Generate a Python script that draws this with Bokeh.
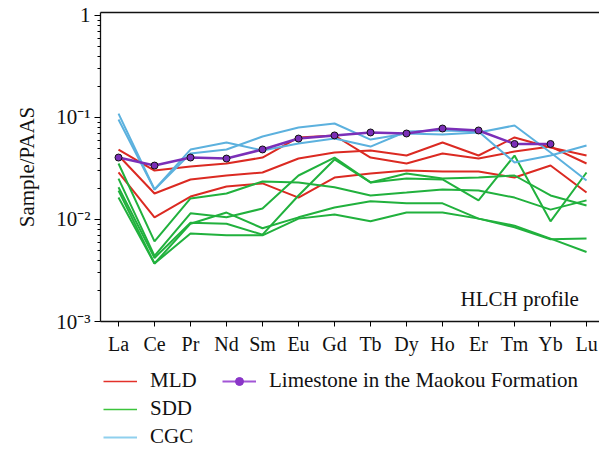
from bokeh.plotting import figure
from bokeh.layouts import column
from bokeh.models import (Range1d, FixedTicker, CustomJSTickFormatter, Legend,
                          LegendItem, LinearAxis, Label)
from bokeh.embed import file_html
from bokeh.resources import INLINE

# ---------------- data ----------------
elements = ["La", "Ce", "Pr", "Nd", "Sm", "Eu", "Gd", "Tb", "Dy", "Ho", "Er", "Tm", "Yb", "Lu"]

mld_a = [0.0485, 0.0302, 0.0331, 0.0354, 0.0405, 0.0637, 0.0666, 0.0405, 0.0354, 0.0444, 0.0396, 0.0464, 0.0519, 0.0354]
mld_b = [0.0424, 0.0180, 0.0247, 0.0270, 0.0289, 0.0396, 0.0454, 0.0475, 0.0424, 0.0569, 0.0424, 0.0637, 0.0508, 0.0424]
mld_c = [0.0289, 0.0105, 0.0168, 0.0211, 0.0226, 0.0164, 0.0258, 0.0283, 0.0302, 0.0296, 0.0296, 0.0258, 0.0338, 0.0184]

sdd_a = [0.0252, 0.0044, 0.0115, 0.0105, 0.0128, 0.0270, 0.0405, 0.0231, 0.0252, 0.0247, 0.0154, 0.0424, 0.0096, 0.0289]
sdd_b = [0.0207, 0.0042, 0.0093, 0.0091, 0.0071, 0.0172, 0.0388, 0.0231, 0.0283, 0.0252, 0.0258, 0.0270, 0.0172, 0.0137]
sdd_c = [0.0354, 0.0061, 0.0161, 0.0180, 0.0236, 0.0231, 0.0207, 0.0172, 0.0184, 0.0197, 0.0192, 0.0164, 0.0125, 0.0154]
sdd_d = [0.0192, 0.0037, 0.0091, 0.0117, 0.0082, 0.0105, 0.0131, 0.0151, 0.0144, 0.0144, 0.0102, 0.0084, 0.0064, 0.0065]
sdd_e = [0.0164, 0.0037, 0.0073, 0.0070, 0.0070, 0.0102, 0.0112, 0.0096, 0.0117, 0.0117, 0.0102, 0.0087, 0.0065, 0.0048]

cgc_a = [0.0955, 0.0197, 0.0485, 0.0569, 0.0475, 0.0556, 0.0622, 0.0519, 0.0729, 0.0746, 0.0729, 0.0362, 0.0424, 0.0531]
cgc_b = [0.1090, 0.0197, 0.0444, 0.0485, 0.0651, 0.0798, 0.0874, 0.0608, 0.0697, 0.0681, 0.0713, 0.0835, 0.0454, 0.0241]

limestone = [0.0405, 0.0338, 0.0405, 0.0396, 0.0486, 0.0622, 0.0667, 0.0713, 0.0697, 0.0780, 0.0746, 0.0550, 0.0550]

y_major = [0.001, 0.01, 0.1, 1]
y_minor = [k * m for m in [0.001, 0.01, 0.1] for k in range(2, 10)]

# ---------------- style ----------------
FONT = "Liberation Serif"
RED = "#db2a22"
GREEN = "#21b13d"
BLUE = "#5cb1de"
PURPLE = "#7b2fb8"

xs = list(range(len(elements)))

p = figure(width=599, height=360, y_axis_type="log",
           x_range=Range1d(-0.5, 13.36), y_range=Range1d(1e-3, 1.07),
           output_backend="svg", toolbar_location=None,
           min_border_left=100, min_border_right=0, min_border_top=12,
           min_border_bottom=39)
p.outline_line_color = None
p.xgrid.grid_line_color = None
p.ygrid.grid_line_color = None
p.background_fill_color = "white"

# x axis
xa = p.xaxis[0]
xa.ticker = FixedTicker(ticks=xs)
xa.major_label_overrides = {i: e for i, e in zip(xs, elements)}
xa.minor_tick_line_color = None
xa.major_tick_in = 0
xa.major_tick_out = 5
xa.major_label_standoff = 6
xa.major_label_text_font = FONT
xa.major_label_text_font_size = "20px"
xa.major_label_text_color = "#111111"
xa.axis_line_color = "#111111"
xa.axis_line_width = 1.3

# y axis
ya = p.yaxis[0]
ya.ticker = FixedTicker(ticks=y_major, minor_ticks=y_minor)
ya.formatter = CustomJSTickFormatter(code="""
const e = Math.round(Math.log10(tick));
if (e === 0) return "1";
const sup = {"-1": "\u207B\u00B9", "-2": "\u207B\u00B2", "-3": "\u207B\u00B3"};
return "10" + (sup[String(e)] || ("^" + e));
""")
ya.major_tick_in = 0
ya.major_tick_out = 6
ya.minor_tick_in = 0
ya.minor_tick_out = 3
ya.major_label_standoff = 4
ya.major_label_text_font = FONT
ya.major_label_text_font_size = "21px"
ya.major_label_text_color = "#111111"
ya.axis_line_color = "#111111"
ya.axis_line_width = 1.3
ya.axis_label = "Sample/PAAS"
ya.axis_label_text_font = FONT
ya.axis_label_text_font_style = "normal"
ya.axis_label_text_font_size = "21px"
ya.axis_label_text_color = "#111111"
ya.axis_label_standoff = 14

# top border line
top = LinearAxis(ticker=FixedTicker(ticks=[]), major_label_text_font_size="0px",
                 major_tick_line_color=None, minor_tick_line_color=None,
                 axis_line_color="#111111", axis_line_width=1.3)
p.add_layout(top, "above")

# data lines
for s in [mld_a, mld_b, mld_c]:
    p.line(xs, s, line_color=RED, line_width=2)
for s in [sdd_a, sdd_b, sdd_c, sdd_d, sdd_e]:
    p.line(xs, s, line_color=GREEN, line_width=2)
for s in [cgc_a, cgc_b]:
    p.line(xs, s, line_color=BLUE, line_width=2)
xl = xs[:len(limestone)]
p.line(xl, limestone, line_color=PURPLE, line_width=2.5)
p.scatter(xl, limestone, size=7, fill_color=PURPLE, line_color="#111111", line_width=1)

p.add_layout(Label(x=9.5, y=0.00168, text="HLCH profile", text_font=FONT,
                   text_font_size="21px", text_color="#111111",
                   text_align="left", text_baseline="alphabetic"))

# ---------------- legend strip ----------------
q = figure(width=599, height=91, x_range=Range1d(0, 1), y_range=Range1d(0, 1),
           output_backend="svg", toolbar_location=None,
           x_axis_location=None, y_axis_location=None,
           min_border_left=0, min_border_right=0, min_border_top=0,
           min_border_bottom=0)
q.outline_line_color = None
q.xgrid.grid_line_color = None
q.ygrid.grid_line_color = None

# proxy renderers, placed outside the visible range (only their legend glyphs show)
off_x, off_y = [5, 6], [5, 6]
l_mld = q.line(off_x, off_y, line_color="#e3312a", line_width=1.5)
l_sdd = q.line(off_x, off_y, line_color="#3cc43c", line_width=1.5)
l_cgc = q.line(off_x, off_y, line_color="#8fd0ee", line_width=2)
l_lim = q.line(off_x, off_y, line_color="#a255d6", line_width=2)
l_lim_m = q.scatter(off_x, off_y, size=5, fill_color="#8a35c8", line_color="#8a35c8")

legend = Legend(items=[
    LegendItem(label="MLD", renderers=[l_mld]),
    LegendItem(label="SDD", renderers=[l_sdd]),
    LegendItem(label="CGC", renderers=[l_cgc]),
    LegendItem(label="Limestone in the Maokou Formation", renderers=[l_lim, l_lim_m]),
], location=(3, 2), nrows=3, padding=0, margin=0, spacing=3,
    glyph_width=34, glyph_height=20, label_standoff=13, label_width=69,
    label_height=20, label_text_font="'Liberation Serif', serif",
    label_text_font_size="21px",
    label_text_color="#111111", border_line_color=None, background_fill_alpha=0)
q.add_layout(legend)

layout = column(p, q, spacing=0)
open("out.html", "w").write(file_html(layout, INLINE))
